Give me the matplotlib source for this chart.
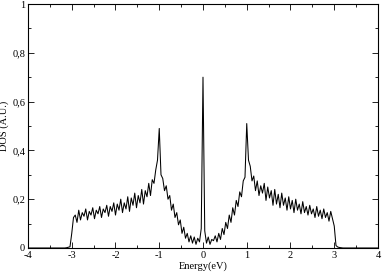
import numpy as np
import matplotlib
matplotlib.use("Agg")
import matplotlib.pyplot as plt
from matplotlib.ticker import MultipleLocator

plt.rcParams['font.family'] = ['Liberation Serif', 'DejaVu Serif']
plt.rcParams['axes.unicode_minus'] = False

# energy grid inside the band, step 0.04 eV
energy_band = np.linspace(-3.2, 3.2, 161)
dos_band = [
    0.0, 0.0, 0.001, 0.003, 0.005, 0.06, 0.125, 0.135, 0.105, 0.155,
    0.115, 0.145, 0.13, 0.16, 0.115, 0.15, 0.135, 0.165, 0.12, 0.155,
    0.14, 0.17, 0.125, 0.16, 0.145, 0.175, 0.13, 0.17, 0.15, 0.185,
    0.135, 0.18, 0.155, 0.2, 0.145, 0.185, 0.16, 0.21, 0.15, 0.205,
    0.175, 0.225, 0.165, 0.215, 0.185, 0.24, 0.18, 0.235, 0.21, 0.265,
    0.215, 0.28, 0.265, 0.32, 0.36, 0.49, 0.30, 0.285, 0.235, 0.255,
    0.2, 0.215, 0.155, 0.18, 0.125, 0.145, 0.095, 0.115, 0.06, 0.085,
    0.04, 0.06, 0.025, 0.05, 0.02, 0.045, 0.015, 0.04, 0.025, 0.08,
    0.70, 0.07, 0.02, 0.045, 0.015, 0.035, 0.03, 0.05, 0.025, 0.06,
    0.035, 0.08, 0.055, 0.105, 0.08, 0.135, 0.105, 0.165, 0.135, 0.195,
    0.17, 0.23, 0.21, 0.275, 0.29, 0.51, 0.36, 0.335, 0.275, 0.295,
    0.235, 0.275, 0.215, 0.255, 0.225, 0.265, 0.195, 0.25, 0.205, 0.235,
    0.175, 0.24, 0.18, 0.22, 0.165, 0.225, 0.175, 0.205, 0.155, 0.21,
    0.16, 0.195, 0.145, 0.2, 0.155, 0.18, 0.14, 0.19, 0.145, 0.17,
    0.135, 0.175, 0.14, 0.16, 0.125, 0.17, 0.13, 0.155, 0.12, 0.16,
    0.125, 0.145, 0.11, 0.15, 0.12, 0.09, 0.01, 0.004, 0.002, 0.001,
    0.0,
]

energy = np.concatenate([[-4.0], energy_band, [4.0]])
dos = np.concatenate([[0.0], dos_band, [0.0]])

y_ticks = [0, 0.2, 0.4, 0.6, 0.8, 1]
y_labels = ["0", "0,2", "0,4", "0,6", "0,8", "1"]
x_ticks = [-4, -3, -2, -1, 0, 1, 2, 3, 4]

fig = plt.figure(figsize=(3.82, 2.73), dpi=100)
ax = fig.add_axes([0.0733, 0.0916, 0.9162, 0.8937])
ax.plot(energy, dos, color="black", lw=0.75)

ax.set_xlim(-4, 4)
ax.set_ylim(0, 1)
ax.set_xticks(x_ticks)
ax.set_xticklabels([str(t) for t in x_ticks])
ax.set_yticks(y_ticks)
ax.set_yticklabels(y_labels)
ax.xaxis.set_minor_locator(MultipleLocator(0.5))
ax.yaxis.set_minor_locator(MultipleLocator(0.1))
ax.tick_params(which="both", direction="in", top=True, right=True,
               labelsize=7.5, width=0.6)
ax.tick_params(axis="x", pad=2.5)
ax.tick_params(axis="y", pad=2)
ax.tick_params(which="major", length=4)
ax.tick_params(which="minor", length=2)
for s in ax.spines.values():
    s.set_linewidth(0.8)

ax.set_xlabel("Energy(eV)", fontsize=7.5, labelpad=0.5)
ax.set_ylabel("DOS (A.U.)", fontsize=7.5, labelpad=2)

fig.savefig("out.png", dpi=100)
